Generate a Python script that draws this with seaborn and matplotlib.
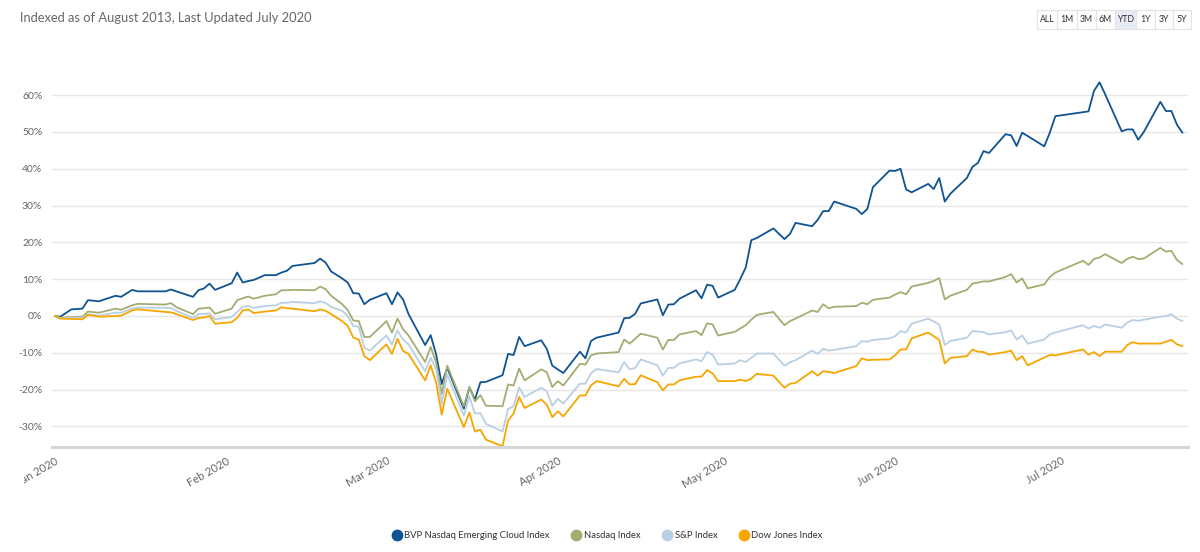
import pandas as pd
import numpy as np
import seaborn as sns
import matplotlib.pyplot as plt
import matplotlib.dates as mdates
from matplotlib.lines import Line2D
from matplotlib.patches import Rectangle
from matplotlib.transforms import Bbox

# Values (% change since Jan 2020)
dates = [
    "2020-01-01", "2020-01-02", "2020-01-04", "2020-01-06", "2020-01-07", "2020-01-09",
    "2020-01-12", "2020-01-13", "2020-01-15", "2020-01-16", "2020-01-21", "2020-01-22",
    "2020-01-23", "2020-01-26", "2020-01-27", "2020-01-28", "2020-01-29", "2020-01-30",
    "2020-02-02", "2020-02-03", "2020-02-04", "2020-02-05", "2020-02-06", "2020-02-08",
    "2020-02-10", "2020-02-11", "2020-02-12", "2020-02-13", "2020-02-17", "2020-02-18",
    "2020-02-19", "2020-02-20", "2020-02-22", "2020-02-23", "2020-02-24", "2020-02-25",
    "2020-02-26", "2020-02-27", "2020-03-01", "2020-03-02", "2020-03-03", "2020-03-04",
    "2020-03-05", "2020-03-08", "2020-03-09", "2020-03-10", "2020-03-11", "2020-03-12",
    "2020-03-15", "2020-03-16", "2020-03-17", "2020-03-18", "2020-03-19", "2020-03-22",
    "2020-03-23", "2020-03-24", "2020-03-25", "2020-03-26", "2020-03-29", "2020-03-30",
    "2020-03-31", "2020-04-01", "2020-04-02", "2020-04-05", "2020-04-06", "2020-04-07",
    "2020-04-08", "2020-04-12", "2020-04-13", "2020-04-14", "2020-04-15", "2020-04-16",
    "2020-04-19", "2020-04-20", "2020-04-21", "2020-04-22", "2020-04-23", "2020-04-26",
    "2020-04-27", "2020-04-28", "2020-04-29", "2020-04-30", "2020-05-03", "2020-05-04",
    "2020-05-05", "2020-05-06", "2020-05-07", "2020-05-10", "2020-05-12", "2020-05-13",
    "2020-05-14", "2020-05-17", "2020-05-18", "2020-05-19", "2020-05-20", "2020-05-21",
    "2020-05-25", "2020-05-26", "2020-05-27", "2020-05-28", "2020-05-31", "2020-06-01",
    "2020-06-02", "2020-06-03", "2020-06-04", "2020-06-07", "2020-06-08", "2020-06-09",
    "2020-06-10", "2020-06-11", "2020-06-14", "2020-06-15", "2020-06-16", "2020-06-17",
    "2020-06-18", "2020-06-21", "2020-06-22", "2020-06-23", "2020-06-24", "2020-06-25",
    "2020-06-28", "2020-06-29", "2020-06-30", "2020-07-05", "2020-07-06", "2020-07-07",
    "2020-07-08", "2020-07-09", "2020-07-12", "2020-07-13", "2020-07-14", "2020-07-15",
    "2020-07-16", "2020-07-19", "2020-07-20", "2020-07-21", "2020-07-22", "2020-07-23",
]

bvp_cloud = [
    0, -0.2, 1.8, 2.0, 4.3, 4.0, 5.5, 5.2, 7.1, 6.7, 6.7, 7.2,
    6.7, 5.2, 7.0, 7.5, 8.8, 7.1, 8.9, 11.8, 9.1, 9.5, 9.8, 11.1,
    11.1, 11.8, 12.3, 13.6, 14.4, 15.6, 14.5, 12.1, 10.2, 9.1, 6.2, 6.1,
    3.2, 4.4, 6.2, 3.2, 6.4, 4.5, 0.5, -7.9, -5.2, -10.5, -18.5, -14.1,
    -25.2, -19.4, -22.7, -18.0, -17.9, -16.1, -10.3, -10.6, -5.7, -8.2, -6.6, -8.9,
    -13.5, -14.5, -15.5, -9.7, -11.5, -6.8, -5.9, -4.5, -0.6, -0.5, 0.6, 3.4,
    4.5, 0.2, 3.1, 3.2, 4.7, 7.0, 4.8, 8.5, 8.2, 5.0, 7.1, 10.0,
    13.2, 20.6, 21.2, 23.8, 20.9, 22.3, 25.3, 24.4, 26.1, 28.5, 28.5, 31.1,
    29.1, 27.7, 29.1, 35.0, 39.5, 39.4, 40.0, 34.4, 33.6, 35.9, 34.5, 37.5,
    31.1, 33.2, 37.5, 40.5, 41.6, 44.8, 44.3, 49.4, 49.1, 46.2, 49.8, 48.9,
    46.1, 49.8, 54.3, 55.4, 55.6, 61.2, 63.5, 60.3, 50.2, 50.7, 50.7, 47.9,
    50.0, 58.2, 55.7, 55.7, 52.0, 49.8,
]

nasdaq = [
    0, -0.5, -0.3, -0.2, 1.2, 0.9, 2.0, 1.7, 2.9, 3.3, 3.1, 3.5,
    2.4, 0.5, 2.0, 2.1, 2.3, 0.6, 2.0, 4.3, 4.8, 5.3, 4.7, 5.5,
    5.9, 7.0, 7.0, 7.1, 7.0, 8.0, 7.3, 5.5, 3.2, 1.6, -1.2, -1.4,
    -5.7, -5.7, -1.4, -4.5, -0.7, -3.6, -5.3, -12.5, -8.4, -12.7, -21.2, -13.5,
    -24.5, -19.3, -23.2, -21.5, -24.4, -24.5, -18.6, -18.9, -14.3, -17.5, -14.5, -15.3,
    -19.3, -17.7, -18.9, -13.0, -13.2, -10.7, -10.2, -9.8, -6.4, -7.5, -6.2, -4.8,
    -5.9, -9.1, -6.5, -6.5, -5.0, -4.1, -5.2, -2.0, -2.3, -5.3, -4.3, -3.4,
    -2.5, -1.0, 0.3, 1.1, -2.5, -1.4, -0.7, 1.5, 1.1, 3.2, 2.1, 2.5,
    2.7, 3.6, 3.2, 4.4, 5.0, 5.8, 6.5, 5.9, 8.0, 9.0, 9.5, 10.3,
    4.5, 5.5, 7.1, 8.8, 9.1, 9.4, 9.4, 10.6, 11.4, 9.1, 10.2, 7.5,
    8.6, 10.6, 11.8, 15.0, 13.9, 15.5, 15.9, 16.8, 14.4, 15.5, 16.1, 15.5,
    15.6, 18.5, 17.5, 17.7, 15.2, 14.1,
]

sp500 = [
    0, -0.6, -0.5, -0.5, 0.5, 0.1, 0.9, 0.9, 2.0, 2.3, 2.2, 2.2,
    1.4, -0.5, 0.5, 0.6, 0.7, -0.9, -0.3, 1.1, 2.5, 2.7, 2.2, 2.7,
    2.9, 3.6, 3.6, 3.8, 3.5, 4.0, 3.5, 2.5, 1.4, 0.0, -2.7, -2.9,
    -8.6, -9.4, -5.3, -7.7, -3.9, -6.4, -7.7, -15.0, -11.4, -14.5, -23.8, -15.9,
    -27.1, -21.8, -26.5, -26.4, -29.3, -31.4, -25.3, -24.5, -19.4, -22.0, -19.5, -20.5,
    -24.4, -22.5, -23.8, -18.4, -18.4, -15.6, -14.4, -15.3, -12.5, -14.5, -14.1, -11.8,
    -13.4, -16.2, -14.1, -14.1, -12.9, -11.8, -12.3, -9.8, -10.5, -13.2, -12.9, -12.0,
    -12.5, -11.4, -10.2, -10.2, -13.5, -12.6, -12.0, -9.4, -10.3, -8.9, -9.4, -9.2,
    -8.2, -6.8, -7.0, -6.5, -6.1, -5.5, -4.1, -4.5, -2.1, -0.7, -1.5, -2.3,
    -7.9, -6.8, -5.9, -4.1, -4.2, -4.4, -5.0, -4.4, -3.9, -6.4, -5.3, -7.5,
    -6.4, -5.0, -4.5, -2.5, -3.4, -2.7, -3.2, -2.3, -3.2, -1.8, -1.1, -1.3,
    -1.0, -0.2, 0.0, 0.5, -0.7, -1.4,
]

dow_jones = [
    0, -0.7, -0.8, -0.9, 0.3, -0.2, 0.0, 0.1, 1.5, 1.8, 1.1, 1.0,
    0.5, -1.1, -0.5, -0.4, 0.0, -2.1, -1.7, -0.5, 1.5, 1.8, 0.8, 1.2,
    1.5, 2.4, 2.1, 2.0, 1.3, 1.8, 1.4, 0.5, -1.4, -2.7, -5.9, -6.4,
    -10.9, -12.0, -7.7, -10.3, -6.2, -9.5, -10.3, -17.5, -13.4, -18.2, -26.8, -19.8,
    -30.2, -26.2, -31.4, -30.9, -33.6, -35.4, -28.4, -26.5, -22.0, -25.0, -22.7, -24.1,
    -27.5, -25.9, -27.3, -21.6, -21.6, -18.9, -17.7, -19.1, -17.1, -18.6, -18.5, -16.1,
    -18.0, -20.2, -18.6, -18.6, -17.5, -16.5, -16.5, -14.7, -15.6, -17.7, -17.7, -17.3,
    -17.7, -17.0, -15.7, -16.2, -19.5, -18.4, -18.2, -15.0, -16.2, -15.0, -15.2, -15.5,
    -13.6, -11.5, -12.0, -11.9, -11.8, -10.7, -9.1, -9.1, -6.1, -4.5, -5.5, -6.5,
    -12.9, -11.4, -10.9, -9.1, -9.7, -9.8, -10.5, -9.8, -9.4, -12.0, -10.9, -13.4,
    -11.3, -10.6, -10.7, -9.1, -10.5, -9.8, -10.9, -9.7, -9.7, -7.9, -7.1, -7.5,
    -7.5, -7.5, -7.0, -6.5, -7.7, -8.2,
]

series_names = ["BVP Nasdaq Emerging Cloud Index", "Nasdaq Index", "S&P Index", "Dow Jones Index"]
series_colors = ["#0f5391", "#a3ad72", "#b9cfe3", "#f7a600"]
y_ticks = [-30, -20, -10, 0, 10, 20, 30, 40, 50, 60]
month_ticks = ["2020-01-01", "2020-02-01", "2020-03-01", "2020-04-01",
               "2020-05-01", "2020-06-01", "2020-07-01"]
range_buttons = ["ALL", "1M", "3M", "6M", "YTD", "1Y", "3Y", "5Y"]
selected_button = "YTD"
title = "Indexed as of August 2013, Last Updated July 2020"

# long-form table for seaborn
df = pd.DataFrame({
    "date": pd.to_datetime(dates * 4),
    "value": bvp_cloud + nasdaq + sp500 + dow_jones,
    "series": np.repeat(series_names, len(dates)),
})
palette = dict(zip(series_names, series_colors))

sns.set_style("white")
plt.rcParams["font.family"] = ["Lato", "DejaVu Sans"]

W, H = 1200, 552
fig = plt.figure(figsize=(W / 100, H / 100), dpi=100)


def fx(px):
    return px / W


def fy(py):
    return 1 - py / H


ax = fig.add_axes([fx(52), fy(447), fx(1188) - fx(52), fy(58.4) - fy(447)])

sns.lineplot(data=df, x="date", y="value", hue="series", hue_order=series_names,
             palette=palette, linewidth=1.3, legend=False, ax=ax, estimator=None)

ax.set_xlim(pd.Timestamp("2019-12-31 12:00"), pd.Timestamp("2020-07-24 00:00"))
ax.set_ylim(-35.6, 70)
ax.set_yticks(y_ticks)
ax.set_yticklabels([f"{t}%" for t in y_ticks])
ax.set_xticks(pd.to_datetime(month_ticks))
ax.xaxis.set_major_formatter(mdates.DateFormatter("%b %Y"))
ax.set_xlabel("")
ax.set_ylabel("")

ax.grid(axis="y", color="#e6e6e6", linewidth=1)
ax.set_axisbelow(True)
for side in ["top", "right", "left"]:
    ax.spines[side].set_visible(False)
ax.spines["bottom"].set_color("#d6d6d6")
ax.spines["bottom"].set_linewidth(2.2)

ax.tick_params(axis="y", length=0, pad=7, labelsize=7.5, labelcolor="#666666")
ax.tick_params(axis="x", length=3, color="#d6d6d6", pad=3, labelsize=8, labelcolor="#666666")
# the first month label is cut by the chart's left edge in the original
left_clip = Bbox.from_extents(24, 0, W, H)
for lbl in ax.get_xticklabels():
    lbl.set_rotation(30)
    lbl.set_ha("right")
    lbl.set_rotation_mode("anchor")
    lbl.set_clip_box(left_clip)
    lbl.set_clip_on(True)

# title
fig.text(fx(20), fy(18), title, fontsize=9.3, color="#666666", va="center", ha="left")

# range selector buttons
edges = [1037, 1057, 1077, 1096, 1115, 1136, 1155, 1173, 1191]
top, bottom = 10, 29
for i, lab in enumerate(range_buttons):
    x0, x1 = edges[i], edges[i + 1]
    face = "#e6ebf5" if lab == selected_button else "white"
    fig.add_artist(Rectangle((fx(x0), fy(bottom)), fx(x1 - x0), fy(top) - fy(bottom),
                             transform=fig.transFigure, facecolor=face,
                             edgecolor="#e3e3e3", linewidth=0.8))
    fig.text(fx((x0 + x1) / 2), fy((top + bottom) / 2), lab, fontsize=6.3,
             color="#333333", ha="center", va="center")

# legend with circle markers
handles = [Line2D([0], [0], marker="o", linestyle="", markersize=7.5,
                  markerfacecolor=c, markeredgecolor=c) for c in series_colors]
fig.legend(handles, series_names, loc="center", bbox_to_anchor=(fx(607), fy(536)),
           ncol=4, frameon=False, fontsize=6.8, labelcolor="#333333",
           handletextpad=0.2, columnspacing=2.2, handlelength=1.2)

fig.savefig("out.png", dpi=100)
plt.close(fig)
